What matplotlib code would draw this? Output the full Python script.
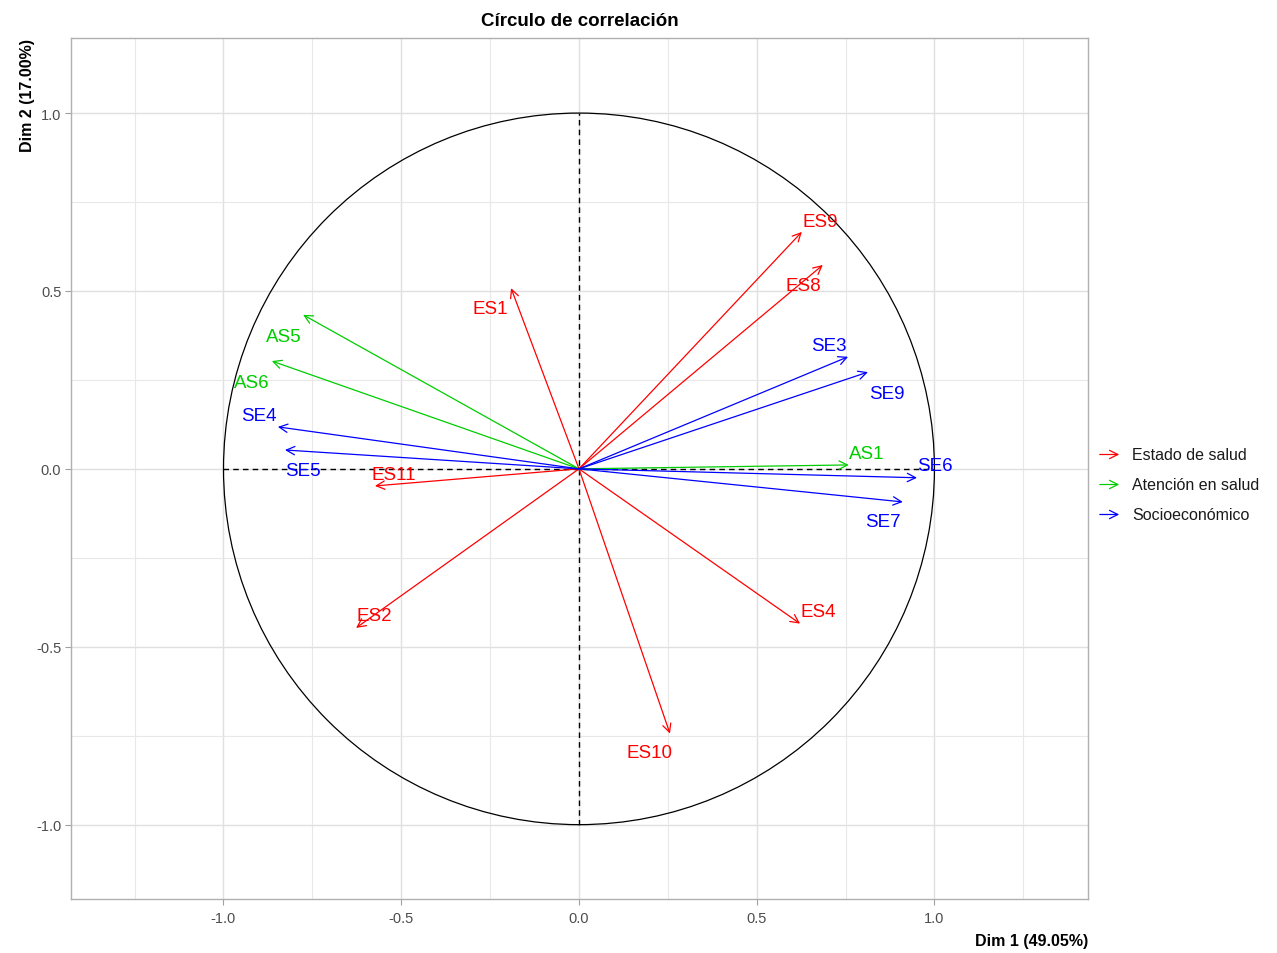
import numpy as np
import matplotlib.pyplot as plt
from matplotlib.patches import Circle, FancyArrowPatch
from matplotlib.ticker import MultipleLocator

plt.rcParams['font.family'] = ['Liberation Sans', 'DejaVu Sans']
plt.rcParams['axes.unicode_minus'] = False

# variable coordinates on the first two dimensions
var_names = ['ES1', 'ES2', 'ES4', 'ES8', 'ES9', 'ES10', 'ES11',
             'AS1', 'AS5', 'AS6',
             'SE3', 'SE4', 'SE5', 'SE6', 'SE7', 'SE9']
dim1 = [-0.191, -0.627, 0.622, 0.686, 0.627, 0.256, -0.574,
        0.759, -0.776, -0.864,
        0.757, -0.847, -0.827, 0.951, 0.911, 0.813]
dim2 = [0.508, -0.447, -0.435, 0.573, 0.666, -0.744, -0.048,
        0.011, 0.433, 0.303,
        0.315, 0.118, 0.053, -0.025, -0.093, 0.272]
groups = ['Estado de salud'] * 7 + ['Atención en salud'] * 3 + ['Socioeconómico'] * 6
group_order = ['Estado de salud', 'Atención en salud', 'Socioeconómico']

colors = {'Estado de salud': '#FF0000',
          'Atención en salud': '#00CD00',
          'Socioeconómico': '#0000FF'}

# label nudges (pixels: right, down)
label_nudge = {'ES1': (-21, 17), 'ES2': (18, -15), 'ES4': (18, -15), 'ES8': (-20, 18),
               'ES9': (18, -13), 'ES10': (-20, 16), 'ES11': (19, -14), 'AS1': (18, -14),
               'AS5': (-19, 19), 'AS6': (-20, 18), 'SE3': (-19, -14), 'SE4': (-19, -14),
               'SE5': (18, 18), 'SE6': (18, -15), 'SE7': (-20, 17), 'SE9': (19, 18)}

W, H = 1277, 954
fig = plt.figure(figsize=(W / 100, H / 100), dpi=100)
ax = fig.add_axes([71 / W, 1 - 900 / H, (1088 - 71) / W, (900 - 39) / H])

ax.set_xlim(-1.429, 1.432)
ax.set_ylim(-1.209, 1.211)

ax.xaxis.set_major_locator(MultipleLocator(0.5))
ax.yaxis.set_major_locator(MultipleLocator(0.5))
ax.xaxis.set_minor_locator(MultipleLocator(0.25))
ax.yaxis.set_minor_locator(MultipleLocator(0.25))
ax.grid(which='major', color='#E0E0E0', lw=1.0)
ax.grid(which='minor', color='#E8E8E8', lw=0.8)
ax.set_axisbelow(True)
ax.tick_params(which='minor', length=0)
ax.tick_params(which='major', length=4, color='#A0A0A0', labelcolor='#4D4D4D',
               labelsize=10.5, pad=3)
ax.tick_params(axis='x', pad=4.5)
for s in ax.spines.values():
    s.set_color('#B0B0B0')
    s.set_linewidth(1.0)

# unit circle and reference axes
ax.add_patch(Circle((0, 0), 1, fill=False, color='black', lw=0.9, zorder=2))
ax.plot([-1, 1], [0, 0], ls=(0, (4, 3)), color='black', lw=1.0, zorder=2)
ax.plot([0, 0], [-1, 1], ls=(0, (4, 3)), color='black', lw=1.0, zorder=2)

for name, x, y, g in zip(var_names, dim1, dim2, groups):
    c = colors[g]
    ax.annotate('', xy=(x, y), xytext=(0, 0),
                arrowprops=dict(arrowstyle='->,head_length=0.6,head_width=0.3',
                                color=c, lw=0.9, mutation_scale=10,
                                shrinkA=0, shrinkB=0), zorder=3)
    dx, dy = label_nudge[name]
    ax.annotate(name, xy=(x, y), xytext=(dx * 0.72, -(dy + 3) * 0.72),
                textcoords='offset points', ha='center', va='center',
                color=c, fontsize=13.5, zorder=4)

ax.set_xlabel('Dim 1 (49.05%)', fontsize=11.5, fontweight='bold', loc='right', labelpad=6)
ax.set_ylabel('Dim 2 (17.00%)', fontsize=11.5, fontweight='bold', loc='top', labelpad=1)
ax.set_title('Círculo de correlación', fontsize=13.5, fontweight='bold', pad=9)

# legend with arrow keys
for i, g in enumerate(group_order):
    yf = 1 - (455.5 + 30 * i) / H
    fig.patches.append(FancyArrowPatch((1097 / W, yf), (1122 / W, yf),
                                       transform=fig.transFigure,
                                       arrowstyle='->,head_length=0.6,head_width=0.3',
                                       mutation_scale=10, color=colors[g], lw=0.9))
    fig.text(1132 / W, yf, g, fontsize=11.5, va='center', ha='left', color='#1A1A1A')

fig.savefig('out.png', dpi=100)
